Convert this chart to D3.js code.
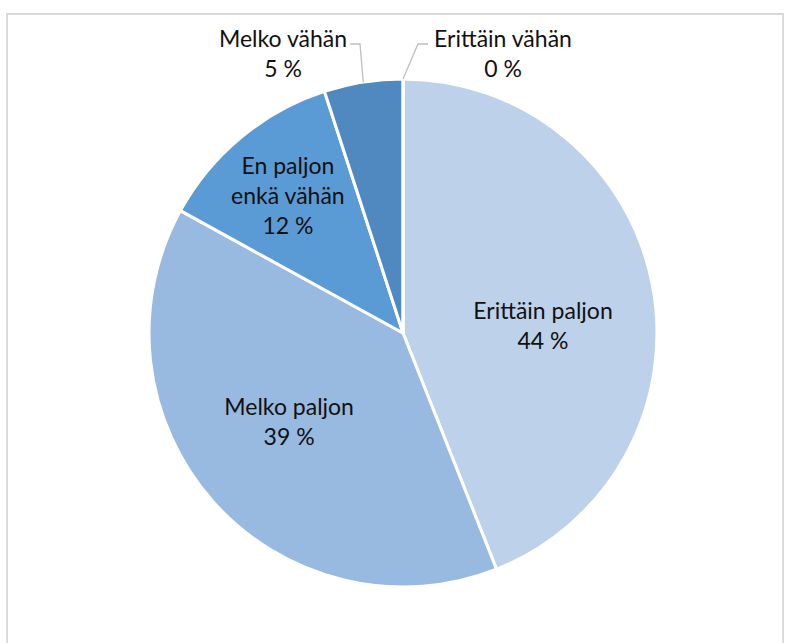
<!DOCTYPE html>
<html>
<head>
<meta charset="utf-8">
<script src="https://cdn.jsdelivr.net/npm/d3@7/dist/d3.min.js"></script>
<style>
  html, body { margin: 0; padding: 0; background: #ffffff; }
  svg { display: block; }
  text { font-family: Lato, "Liberation Sans", sans-serif; fill: #111111; }
</style>
</head>
<body>
<svg id="chart" width="787" height="643"></svg>
<script>
// Survey answer shares (%), clockwise from 12 o'clock
const categories = ["Erittäin paljon", "Melko paljon", "En paljon enkä vähän", "Melko vähän", "Erittäin vähän"];
const labelLines = [["Erittäin paljon"], ["Melko paljon"], ["En paljon", "enkä vähän"], ["Melko vähän"], ["Erittäin vähän"]];
const values = [44, 39, 12, 5, 0];
const colors = ["#bdd1ea", "#98b9e0", "#5b9bd5", "#4f89bf", "#41719c"];

const W = 787, H = 643;
const cx = 403, cy = 333, R = 254;
const fontSize = 23, lineH = 30;

const svg = d3.select("#chart");

// outer chart-area frame
svg.append("rect")
  .attr("x", 7).attr("y", 14)
  .attr("width", 776).attr("height", 700)
  .attr("fill", "none")
  .attr("stroke", "#d9d9d9")
  .attr("stroke-width", 2);

const data = categories.map((c, i) => ({ name: c, lines: labelLines[i], value: values[i], color: colors[i] }));

const pie = d3.pie().sort(null).value(d => d.value).startAngle(0).endAngle(2 * Math.PI);
const arcs = pie(data);
const arc = d3.arc().innerRadius(0).outerRadius(R);

const g = svg.append("g").attr("transform", `translate(${cx},${cy})`);

g.selectAll("path.slice")
  .data(arcs)
  .enter().append("path")
  .attr("class", "slice")
  .attr("d", arc)
  .attr("fill", d => d.data.color)
  .attr("stroke", "#ffffff")
  .attr("stroke-width", 3)
  .attr("stroke-linejoin", "round");

const polar = (ang, r) => [r * Math.sin(ang), -r * Math.cos(ang)];
const deg = Math.PI / 180;

// label placement: inside labels use an angle nudge and radius fraction,
// small slices get labels outside with a leader line
const inside = {
  "Erittäin paljon": { dA: 8 * deg, rf: 0.552 },
  "Melko paljon": { dA: 3.4 * deg, rf: 0.569 },
  "En paljon enkä vähän": { dA: -0.4 * deg, rf: 0.705 }
};
const outside = {
  "Melko vähän": { side: -1, elbowX: -43, textX: -120 },
  "Erittäin vähän": { side: 1, elbowX: 15, textX: 100 }
};
const outsideY = -289; // leader horizontal level relative to center

function drawLines(sel, x, yCenter, lines) {
  const n = lines.length;
  const t = sel.append("text")
    .attr("text-anchor", "middle")
    .attr("font-size", fontSize);
  lines.forEach((ln, k) => {
    t.append("tspan")
      .attr("x", x)
      .attr("y", yCenter + (k - (n - 1) / 2) * lineH)
      .attr("dy", "0.35em")
      .text(ln);
  });
}

arcs.forEach(a => {
  const d = a.data;
  const mid = (a.startAngle + a.endAngle) / 2;
  const lines = d.lines.concat([d.value + " %"]);
  if (inside[d.name]) {
    const p = inside[d.name];
    const [x, y] = polar(mid + p.dA, p.rf * R);
    drawLines(g, x, y, lines);
  } else {
    const p = outside[d.name];
    const [ex, ey] = polar(mid, R);
    const hx = p.elbowX + p.side * 10;
    g.append("polyline")
      .attr("points", [[ex, ey], [p.elbowX, outsideY], [hx, outsideY]].map(q => q.join(",")).join(" "))
      .attr("fill", "none")
      .attr("stroke", "#bfbfbf")
      .attr("stroke-width", 1.3);
    drawLines(g, p.textX, outsideY + 10, lines);
  }
});
</script>
</body>
</html>
